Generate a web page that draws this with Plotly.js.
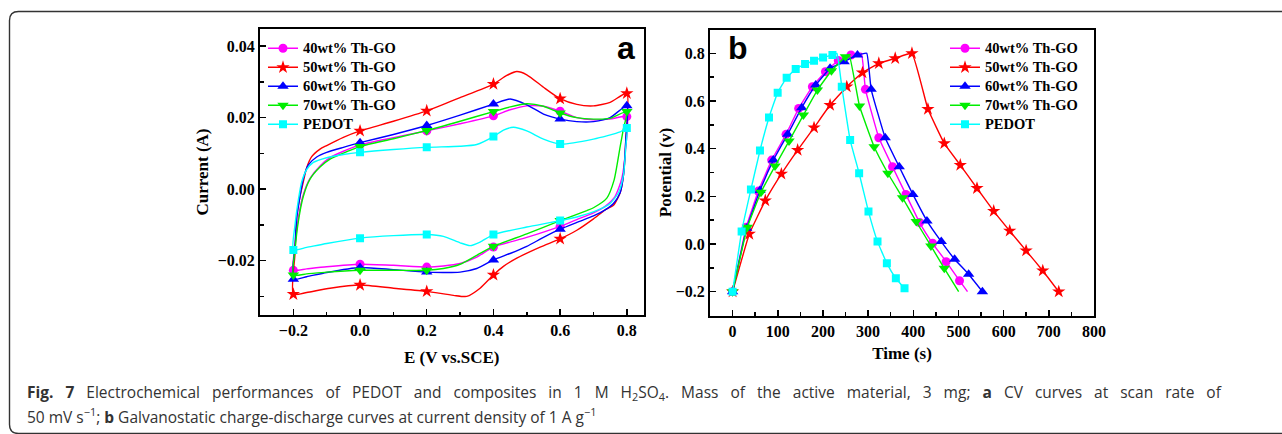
<!DOCTYPE html>
<html><head><meta charset="utf-8">
<script src="https://cdn.plot.ly/plotly-3.0.1.min.js"></script>
<style>html,body{margin:0;padding:0;background:#fff}</style>
</head><body><div id="chart" style="width:1282px;height:434px"></div>
<script>
// ---------- series names ----------
const seriesNames = ['40wt% Th-GO', '50wt% Th-GO', '60wt% Th-GO', '70wt% Th-GO', 'PEDOT'];

// ---------- panel a: CV curves (E in V vs SCE, current in A) ----------
const cvE_40 = [-0.2,-0.195,-0.185,-0.17,-0.15,-0.12,-0.09,-0.05,0.0,0.1,0.2,0.3,0.4,0.45,0.5,0.55,0.6,0.65,0.7,0.75,0.8,
                0.797,0.785,0.765,0.735,0.7,0.65,0.6,0.5,0.4,0.35,0.3,0.25,0.2,0.1,0.0,-0.1,-0.16,-0.2];
const cvI_40 = [-0.0227,-0.016,-0.008,-0.0015,0.003,0.0065,0.0088,0.0106,0.0124,0.0144,0.0163,0.0183,0.0205,0.0222,0.0233,0.0232,0.0218,0.0200,0.0194,0.0196,0.0203,
                0.012,0.003,-0.002,-0.0048,-0.0066,-0.0085,-0.0104,-0.0135,-0.0162,-0.0190,-0.0208,-0.0215,-0.0218,-0.0213,-0.0210,-0.0217,-0.0223,-0.0227];

const cvE_50 = [-0.2,-0.195,-0.19,-0.18,-0.175,-0.16,-0.145,-0.12,-0.1,-0.05,0.0,0.1,0.2,0.3,0.4,0.44,0.47,0.5,0.55,0.6,0.65,0.7,0.75,0.8,
                0.797,0.79,0.78,0.76,0.735,0.7,0.65,0.6,0.54,0.47,0.43,0.4,0.36,0.32,0.28,0.2,0.1,0.0,-0.09,-0.16,-0.2];
const cvI_50 = [-0.0294,-0.018,-0.008,-0.002,0.0,0.006,0.0091,0.0112,0.0122,0.0145,0.0163,0.0190,0.0219,0.0256,0.0294,0.0318,0.0329,0.0320,0.0285,0.0253,0.0237,0.0233,0.0243,0.0268,
                0.014,0.004,-0.001,-0.0045,-0.0058,-0.0083,-0.0115,-0.0139,-0.0162,-0.0193,-0.0216,-0.0240,-0.0277,-0.0300,-0.0297,-0.0286,-0.0277,-0.0268,-0.0277,-0.0289,-0.0294];

const cvE_60 = [-0.2,-0.195,-0.19,-0.18,-0.17,-0.155,-0.13,-0.1,-0.05,0.0,0.1,0.2,0.3,0.4,0.45,0.5,0.55,0.6,0.65,0.7,0.75,0.8,
                0.797,0.79,0.78,0.76,0.735,0.7,0.65,0.6,0.55,0.5,0.45,0.4,0.35,0.3,0.2,0.1,0.0,-0.1,-0.16,-0.2];
const cvI_60 = [-0.0252,-0.016,-0.008,-0.002,0.003,0.0068,0.0090,0.0103,0.0117,0.0130,0.0153,0.0178,0.0207,0.0238,0.0252,0.0236,0.0210,0.0196,0.0189,0.0189,0.0200,0.0233,
                0.014,0.004,-0.001,-0.004,-0.0058,-0.0075,-0.0093,-0.0112,-0.0135,-0.0160,-0.0180,-0.0198,-0.0222,-0.0232,-0.0232,-0.0225,-0.0219,-0.0233,-0.0245,-0.0252];

const cvE_70 = [-0.2,-0.195,-0.185,-0.17,-0.15,-0.12,-0.09,-0.05,0.0,0.1,0.2,0.3,0.4,0.45,0.5,0.55,0.6,0.65,0.7,0.75,0.8,
                0.79,0.78,0.762,0.74,0.7,0.68,0.6,0.5,0.4,0.35,0.3,0.25,0.2,0.1,0.0,-0.1,-0.16,-0.2];
const cvI_70 = [-0.0240,-0.017,-0.009,-0.002,0.0028,0.0062,0.0084,0.0101,0.0119,0.0141,0.0164,0.0190,0.0217,0.0230,0.0239,0.0232,0.0213,0.0200,0.0196,0.0198,0.0217,
                0.017,0.0119,0.0026,-0.0025,-0.0052,-0.0060,-0.0088,-0.0125,-0.0160,-0.0185,-0.0210,-0.0222,-0.0227,-0.0227,-0.0227,-0.0232,-0.0237,-0.0240];

const cvE_PEDOT = [-0.2,-0.195,-0.185,-0.175,-0.16,-0.14,-0.1,-0.05,0.0,0.1,0.2,0.3,0.35,0.4,0.43,0.46,0.5,0.55,0.6,0.7,0.78,0.8,
                   0.797,0.79,0.775,0.75,0.714,0.66,0.6,0.5,0.4,0.36,0.33,0.3,0.25,0.2,0.1,0.0,-0.1,-0.16,-0.2];
const cvI_PEDOT = [-0.0170,-0.010,-0.003,0.002,0.0055,0.0075,0.0088,0.0097,0.0103,0.0111,0.0117,0.0120,0.0125,0.0147,0.0165,0.0173,0.0163,0.0140,0.0126,0.0140,0.0160,0.0171,
                   0.012,0.004,-0.001,-0.004,-0.0058,-0.0075,-0.0088,-0.0106,-0.0127,-0.0148,-0.0158,-0.0150,-0.0132,-0.0127,-0.0130,-0.0137,-0.0152,-0.0163,-0.0170];

// marker points (forward scan 0..0.8, then reverse scan 0.6..-0.2)
const cvMarkE = [0.0,0.2,0.4,0.6,0.8,0.6,0.4,0.2,0.0,-0.2];
const cvMarkI_40 = [0.0124,0.0163,0.0205,0.0218,0.0203,-0.0104,-0.0162,-0.0218,-0.0210,-0.0227];
const cvMarkI_50 = [0.0163,0.0219,0.0294,0.0253,0.0268,-0.0139,-0.0240,-0.0286,-0.0268,-0.0294];
const cvMarkI_60 = [0.0130,0.0178,0.0238,0.0196,0.0233,-0.0112,-0.0198,-0.0232,-0.0219,-0.0252];
const cvMarkI_70 = [0.0119,0.0164,0.0217,0.0213,0.0217,-0.0088,-0.0160,-0.0227,-0.0227,-0.0240];
const cvMarkI_PEDOT = [0.0103,0.0117,0.0147,0.0126,0.0171,-0.0088,-0.0127,-0.0127,-0.0137,-0.0170];

// ---------- panel b: galvanostatic charge-discharge (time s, potential V) ----------
const gcdT_40 = [0,30,57,86.5,118.3,146.3,176.6,205.5,234,262,285,294,323.7,354,383.6,413.9,442.7,472.7,502.3,520];
const gcdV_40 = [-0.2,0.07,0.222,0.352,0.46,0.569,0.66,0.723,0.77,0.793,0.8,0.649,0.446,0.324,0.208,0.09,0.003,-0.074,-0.154,-0.2];
const gcdMarkT_40 = [0,30,57,86.5,118.3,146.3,176.6,205.5,234,262,294,323.7,354,383.6,413.9,442.7,472.7,502.3];
const gcdMarkV_40 = [-0.2,0.07,0.222,0.352,0.46,0.569,0.66,0.723,0.77,0.793,0.649,0.446,0.324,0.208,0.09,0.003,-0.074,-0.154];

const gcdT_50 = [0,37,72.4,108,144,180.3,215.8,252.8,287.5,323.7,360,397,432.4,468.6,504,541,578,613.4,649.7,686.6,722];
const gcdV_50 = [-0.2,0.042,0.182,0.294,0.394,0.488,0.583,0.66,0.719,0.758,0.779,0.8,0.566,0.422,0.331,0.234,0.138,0.055,-0.028,-0.112,-0.2];
const gcdMarkT_50 = gcdT_50;
const gcdMarkV_50 = gcdV_50;

const gcdT_60 = [0,31,60.6,90.2,121.9,153,184,215.8,246.9,276.4,297,306.7,337.8,368.8,399.1,430.2,461.9,491.5,522.5,553];
const gcdV_60 = [-0.2,0.066,0.224,0.352,0.46,0.572,0.667,0.737,0.765,0.793,0.8,0.649,0.446,0.324,0.208,0.097,0.01,-0.064,-0.127,-0.2];
const gcdMarkT_60 = [0,31,60.6,90.2,121.9,153,184,215.8,246.9,276.4,306.7,337.8,368.8,399.1,430.2,461.9,491.5,522.5,553];
const gcdMarkV_60 = [-0.2,0.066,0.224,0.352,0.46,0.572,0.667,0.737,0.765,0.793,0.649,0.446,0.324,0.208,0.097,0.01,-0.064,-0.127,-0.2];

const gcdT_70 = [0,32.5,62.8,93.9,124.9,156.7,187.7,218.8,249.8,258,280.9,313.4,343.7,376.2,406.5,439,468.6,500.4];
const gcdV_70 = [-0.2,0.07,0.217,0.327,0.432,0.541,0.646,0.727,0.786,0.795,0.579,0.408,0.297,0.194,0.094,-0.008,-0.102,-0.2];
const gcdMarkT_70 = [0,32.5,62.8,93.9,124.9,156.7,187.7,218.8,249.8,280.9,313.4,343.7,376.2,406.5,439,468.6];
const gcdMarkV_70 = [-0.2,0.07,0.217,0.327,0.432,0.541,0.646,0.727,0.786,0.579,0.408,0.297,0.194,0.094,-0.008,-0.102];

const gcdT_PEDOT = [0,20,40.6,60.6,80.6,99.8,119.7,139.7,160.4,180.3,200.3,221,231,241.7,260.2,280.1,300.8,320.8,341.5,361.4,380.6,386];
const gcdV_PEDOT = [-0.2,0.052,0.229,0.392,0.531,0.635,0.698,0.734,0.755,0.769,0.783,0.793,0.8,0.66,0.436,0.297,0.136,0.01,-0.081,-0.144,-0.186,-0.192];
const gcdMarkT_PEDOT = [0,20,40.6,60.6,80.6,99.8,119.7,139.7,160.4,180.3,200.3,221,241.7,260.2,280.1,300.8,320.8,341.5,361.4,380.6];
const gcdMarkV_PEDOT = [-0.2,0.052,0.229,0.392,0.531,0.635,0.698,0.734,0.755,0.769,0.783,0.793,0.66,0.436,0.297,0.136,0.01,-0.081,-0.144,-0.186];

// ---------- tick values ----------
const cvTickE = [-0.2, 0.0, 0.2, 0.4, 0.6, 0.8];
const cvTickI = [-0.02, 0.00, 0.02, 0.04];
const gcdTickT = [0, 100, 200, 300, 400, 500, 600, 700, 800];
const gcdTickV = [-0.2, 0.0, 0.2, 0.4, 0.6, 0.8];

// ---------- styles ----------
const styles = [
  {color:'#FF00FF', symbol:'circle', size:9},
  {color:'#FF0000', symbol:'star', size:10},
  {color:'#0000FF', symbol:'triangle-up', size:10},
  {color:'#00EE00', symbol:'triangle-down', size:10},
  {color:'#00FFFF', symbol:'square', size:8}
];

const cvCurves = [[cvE_40,cvI_40],[cvE_50,cvI_50],[cvE_60,cvI_60],[cvE_70,cvI_70],[cvE_PEDOT,cvI_PEDOT]];
const cvMarks = [cvMarkI_40,cvMarkI_50,cvMarkI_60,cvMarkI_70,cvMarkI_PEDOT];
const gcdCurves = [[gcdT_40,gcdV_40],[gcdT_50,gcdV_50],[gcdT_60,gcdV_60],[gcdT_70,gcdV_70],[gcdT_PEDOT,gcdV_PEDOT]];
const gcdMarks = [[gcdMarkT_40,gcdMarkV_40],[gcdMarkT_50,gcdMarkV_50],[gcdMarkT_60,gcdMarkV_60],[gcdMarkT_70,gcdMarkV_70],[gcdMarkT_PEDOT,gcdMarkV_PEDOT]];

const traces = [];
seriesNames.forEach((nm, i) => {
  const s = styles[i];
  traces.push({type:'scatter', mode:'lines', x:cvCurves[i][0], y:cvCurves[i][1], xaxis:'x', yaxis:'y',
    line:{color:s.color, width:1.4, shape:'spline', smoothing:0.6}, showlegend:false, hoverinfo:'skip'});
  traces.push({type:'scatter', mode:'markers', x:cvMarkE, y:cvMarks[i], xaxis:'x', yaxis:'y',
    marker:{color:s.color, symbol:s.symbol, size:s.size}, showlegend:false, name:nm});
});
seriesNames.forEach((nm, i) => {
  const s = styles[i];
  traces.push({type:'scatter', mode:'lines', x:gcdCurves[i][0], y:gcdCurves[i][1], xaxis:'x2', yaxis:'y2',
    line:{color:s.color, width:1.4, shape:'spline', smoothing:0.3}, showlegend:false, hoverinfo:'skip'});
  traces.push({type:'scatter', mode:'markers', x:gcdMarks[i][0], y:gcdMarks[i][1], xaxis:'x2', yaxis:'y2',
    marker:{color:s.color, symbol:s.symbol, size:s.size}, showlegend:false, name:nm});
});
// legend entries
seriesNames.forEach((nm, i) => {
  const s = styles[i];
  const label = '<span style="font-size:14.5px">' + nm + '</span>';
  traces.push({type:'scatter', mode:'lines+markers', x:[null], y:[null], xaxis:'x', yaxis:'y', name:label, legend:'legend',
    line:{color:s.color, width:1.6}, marker:{color:s.color, symbol:s.symbol, size:s.size}});
  traces.push({type:'scatter', mode:'lines+markers', x:[null], y:[null], xaxis:'x2', yaxis:'y2', name:label, legend:'legend2',
    line:{color:s.color, width:1.6}, marker:{color:s.color, symbol:s.symbol, size:s.size}});
});

const W = 1282, H = 434;
const px = v => v / W, py = v => 1 - v / H;

const serifBold = {family:'Liberation Serif', size:16, weight:'bold', color:'#000'};
const titleFont = {family:'Liberation Serif', size:17, weight:'bold', color:'#000'};
function axis(extra) {
  return Object.assign({
    showline:true, linecolor:'#000', linewidth:2, mirror:true,
    ticks:'inside', ticklen:6, tickwidth:1.5, tickcolor:'#000',
    showgrid:false, zeroline:false, fixedrange:true,
    tickfont:serifBold
  }, extra);
}

// rounded outer frame (right edge lies beyond the picture)
const fl = 9.5, ft = 11.5, fr = 1300, fb = 433.5, rr = 9;
const framePath = 'M ' + px(fl) + ' ' + py(fb - rr) +
  ' L ' + px(fl) + ' ' + py(ft + rr) +
  ' Q ' + px(fl) + ' ' + py(ft) + ' ' + px(fl + rr) + ' ' + py(ft) +
  ' L ' + px(fr) + ' ' + py(ft) +
  ' M ' + px(fl) + ' ' + py(fb - rr) +
  ' Q ' + px(fl) + ' ' + py(fb) + ' ' + px(fl + rr) + ' ' + py(fb) +
  ' L ' + px(fr) + ' ' + py(fb);

const legendBase = {
  bgcolor:'rgba(0,0,0,0)', borderwidth:0, itemwidth:30, tracegroupgap:0,
  font:{family:'Liberation Serif', size:12, weight:'bold', color:'#000'},
  xanchor:'left', yanchor:'top'
};

const captionFont = {family:'Open Sans', size:15.5, color:'#333'};

const layout = {
  width:W, height:H, margin:{l:0, r:0, t:0, b:0},
  paper_bgcolor:'#fff', plot_bgcolor:'#fff',
  xaxis: axis({domain:[px(260), px(643.5)], range:[-0.3, 0.85], anchor:'y',
    tickmode:'array', tickvals:cvTickE, tickformat:'.1f',
    minor:{ticks:'inside', ticklen:3.5, tickwidth:1.5, tickcolor:'#000', dtick:0.1, tick0:0},
    title:{text:'E (V vs.SCE)', font:titleFont, standoff:13}}),
  yaxis: axis({domain:[py(315), py(29)], range:[-0.0352, 0.0448], anchor:'x',
    tickmode:'array', tickvals:cvTickI, tickformat:'.2f',
    minor:{ticks:'inside', ticklen:3.5, tickwidth:1.5, tickcolor:'#000', dtick:0.01, tick0:0},
    title:{text:'Current (A)', font:titleFont, standoff:5}}),
  xaxis2: axis({domain:[px(710), px(1094)], range:[-50, 800], anchor:'y2',
    tickmode:'array', tickvals:gcdTickT,
    minor:{ticks:'inside', ticklen:3.5, tickwidth:1.5, tickcolor:'#000', dtick:50, tick0:0},
    title:{text:'Time (s)', font:titleFont, standoff:8}}),
  yaxis2: axis({domain:[py(315.5), py(29.5)], range:[-0.3, 0.9], anchor:'x2',
    tickmode:'array', tickvals:gcdTickV, tickformat:'.1f',
    minor:{ticks:'inside', ticklen:3.5, tickwidth:1.5, tickcolor:'#000', dtick:0.1, tick0:0},
    title:{text:'Potential (v)', font:titleFont, standoff:0}}),
  legend: Object.assign({x:px(263), y:py(33.8)}, legendBase),
  legend2: Object.assign({x:px(945), y:py(33.8)}, legendBase),
  annotations: [
    {xref:'paper', yref:'paper', x:px(626), y:py(47.7), text:'a', showarrow:false, xanchor:'center', yanchor:'middle',
     font:{family:'Liberation Sans', size:32, weight:'bold', color:'#000'}},
    {xref:'paper', yref:'paper', x:px(737.5), y:py(47.7), text:'b', showarrow:false, xanchor:'center', yanchor:'middle',
     font:{family:'Liberation Sans', size:32, weight:'bold', color:'#000'}},
    {xref:'paper', yref:'paper', x:px(25), y:py(392), xanchor:'left', yanchor:'middle', showarrow:false, align:'left',
     text:'<span style="word-spacing:8px"><b>Fig. 7</b> Electrochemical performances of PEDOT and composites in 1 M H<sub>2</sub>SO<sub>4</sub>. Mass of the active material, 3 mg; <b>a</b> CV curves at scan rate of</span>',
     font:captionFont},
    {xref:'paper', yref:'paper', x:px(25), y:py(416), xanchor:'left', yanchor:'middle', showarrow:false, align:'left',
     text:'50 mV s<sup>−1</sup>; <b>b</b> Galvanostatic charge-discharge curves at current density of 1 A g<sup>−1</sup>',
     font:captionFont}
  ],
  shapes: [
    {type:'path', xref:'paper', yref:'paper', path:framePath, line:{color:'#333', width:1.4}, layer:'below'}
  ]
};

Plotly.newPlot('chart', traces, layout, {displayModeBar:false, staticPlot:true});
</script></body></html>
